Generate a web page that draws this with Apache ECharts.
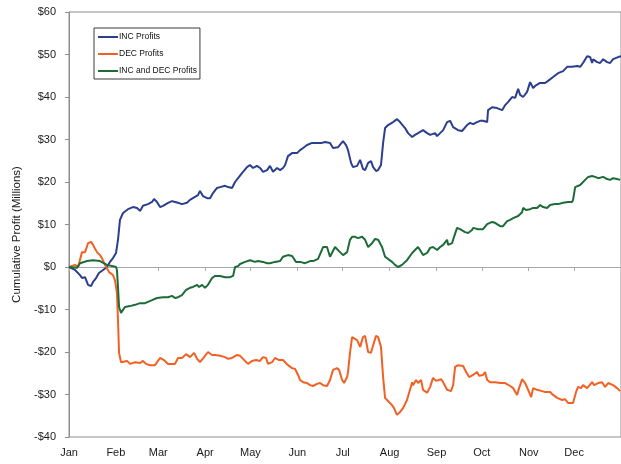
<!DOCTYPE html>
<html>
<head>
<meta charset="utf-8">
<script src="https://cdn.jsdelivr.net/npm/echarts@6/dist/echarts.min.js"></script>
<style>
  html, body { margin: 0; padding: 0; background: #ffffff; }
  #chart { width: 621px; height: 464px; }
</style>
</head>
<body>
<div id="chart"></div>
<script>
// Month labels sit on the first day of each month (day of year, 0-based)
const monthNames = ['Jan', 'Feb', 'Mar', 'Apr', 'May', 'Jun', 'Jul', 'Aug', 'Sep', 'Oct', 'Nov', 'Dec'];
const monthStartDays = [0, 31, 59, 90, 120, 151, 181, 212, 243, 273, 304, 334];

// Cumulative profit in $ millions, INC strategy
const incDays = [0, 4.0, 7.3, 8.6, 10.6, 12.6, 14.6, 15.9, 17.9, 19.8, 22.5, 25.1, 27.1, 29.1, 31.1, 32.4, 33.7, 35.7, 39.0, 42.3,
  45.0, 47.0, 48.9, 52.2, 54.9, 56.2, 58.2, 60.2, 62.2, 65.5, 68.1, 70.1, 72.1, 74.7, 78.0, 80.0, 83.3, 85.3, 86.6, 88.6,
  91.3, 93.3, 95.2, 97.9, 99.9, 103.2, 105.2, 107.8, 109.8, 111.8, 114.4, 117.7, 119.7, 121.7, 124.3, 126.3, 128.3, 131.0, 132.9, 134.9,
  137.6, 139.6, 141.5, 142.9, 144.8, 147.5, 150.8, 152.8, 154.8, 157.4, 160.7, 164.0, 167.3, 169.3, 172.6, 174.6, 177.9, 181.2, 183.2, 184.5,
  186.5, 187.8, 190.5, 192.5, 194.4, 195.8, 197.8, 199.7, 201.1, 203.0, 204.4, 206.3, 207.7, 209.0, 211.0, 214.3, 216.9, 218.9, 222.2, 224.2,
  226.9, 228.8, 230.8, 234.1, 236.8, 238.8, 242.1, 243.4, 245.4, 247.4, 250.0, 252.0, 254.0, 257.3, 259.9, 263.2, 265.2, 267.2, 269.8, 271.8,
  273.8, 276.5, 277.1, 279.8, 283.1, 286.4, 288.4, 290.3, 293.0, 295.0, 297.0, 298.3, 300.3, 302.9, 304.9, 306.9, 308.2, 311.5, 314.8, 316.8,
  318.1, 320.1, 323.4, 326.7, 329.4, 332.7, 336.0, 338.0, 339.9, 342.6, 344.6, 345.9, 346.6, 349.2, 351.2, 353.2, 354.5, 355.8, 357.8, 359.8,
  363.1, 365.0];
const incValues = [0, -0.7, -1.9, -2.6, -2.4, -4.2, -4.5, -3.5, -2.6, -1.4, -0.7, 0.0, 1.2, 2.1, 3.3, 6.4, 11.1, 12.7, 13.6, 14.1,
  13.9, 13.2, 14.4, 14.8, 15.3, 16.0, 15.3, 14.1, 14.4, 15.1, 15.5, 15.3, 15.1, 14.8, 15.1, 15.8, 16.5, 16.9, 17.9, 16.7,
  16.2, 16.2, 17.4, 18.6, 18.8, 19.1, 18.8, 18.6, 20.0, 20.9, 22.1, 23.5, 24.0, 23.3, 23.8, 23.3, 22.4, 22.8, 23.8, 22.4,
  23.3, 22.8, 23.3, 24.0, 26.1, 26.8, 26.8, 27.5, 28.0, 28.7, 29.2, 29.2, 29.2, 29.4, 29.2, 28.0, 28.2, 29.6, 28.7, 27.5,
  24.5, 23.5, 23.8, 25.2, 23.1, 22.8, 24.5, 24.9, 23.5, 22.6, 22.8, 24.0, 29.2, 32.7, 33.4, 34.1, 34.8, 34.1, 32.7, 31.5,
  30.6, 31.1, 31.5, 32.2, 31.5, 31.1, 31.5, 30.8, 31.5, 32.2, 34.1, 34.4, 32.9, 32.2, 32.0, 33.4, 33.9, 33.6, 34.1, 34.4,
  34.4, 34.1, 36.9, 37.6, 37.4, 36.9, 38.1, 38.8, 40.0, 39.8, 41.9, 40.5, 40.0, 41.2, 43.5, 42.1, 42.6, 43.3, 43.3, 43.8,
  44.2, 44.7, 45.6, 46.1, 47.1, 47.1, 47.3, 47.1, 48.0, 49.6, 49.4, 48.0, 48.9, 48.2, 48.0, 48.9, 49.2, 48.2, 48.0, 48.9,
  49.4, 49.6];

// Cumulative profit in $ millions, DEC strategy
const decDays = [0, 4.0, 6.0, 8.6, 10.6, 12.6, 14.6, 15.9, 18.5, 20.5, 21.8, 23.8, 26.5, 29.1, 30.4, 31.7, 32.4, 33.1, 34.4, 35.7,
  38.4, 40.3, 43.7, 47.0, 48.9, 50.9, 53.6, 56.9, 60.2, 62.8, 65.5, 66.8, 70.1, 72.1, 74.7, 77.4, 80.0, 82.7, 84.7, 86.6,
  89.3, 91.9, 94.6, 96.6, 99.9, 103.2, 105.2, 107.8, 111.1, 113.1, 116.4, 118.4, 121.0, 123.7, 126.3, 128.3, 130.3, 131.6, 134.3, 136.2,
  138.9, 141.5, 142.9, 144.8, 147.5, 149.5, 151.5, 152.8, 154.8, 157.4, 159.4, 161.4, 164.0, 166.0, 168.0, 170.6, 172.6, 174.6, 177.2, 178.6,
  180.6, 181.9, 183.9, 184.5, 185.8, 187.2, 188.5, 190.5, 192.5, 194.4, 195.8, 197.8, 199.7, 201.1, 203.0, 204.4, 206.3, 207.7, 209.0, 210.3,
  211.6, 213.6, 214.9, 216.9, 218.9, 220.9, 223.5, 226.9, 227.5, 229.5, 230.8, 232.8, 234.1, 236.8, 238.8, 240.7, 242.7, 244.0, 246.0, 247.4,
  250.0, 252.6, 254.0, 255.3, 257.3, 260.6, 262.6, 264.6, 267.2, 269.8, 271.2, 273.8, 275.1, 276.5, 278.4, 281.7, 285.1, 288.4, 291.7, 293.7,
  296.3, 297.6, 299.6, 301.6, 303.6, 305.6, 306.9, 309.5, 312.8, 314.8, 318.1, 320.1, 322.8, 326.1, 328.0, 330.0, 333.3, 335.3, 336.6, 338.6,
  339.9, 342.6, 345.9, 347.2, 349.9, 352.5, 354.5, 356.5, 359.8, 362.4, 364.4];
const decValues = [0, 0.5, 0.0, 3.5, 3.5, 5.6, 5.9, 5.2, 3.5, 2.8, 2.1, 0.5, -1.2, -1.9, -3.1, -6.1, -12.5, -20.2, -22.4, -22.8,
  -22.1, -22.8, -22.4, -22.6, -22.1, -22.8, -23.1, -23.1, -21.4, -21.9, -22.8, -22.6, -22.8, -21.4, -21.4, -20.5, -21.2, -20.2, -21.6, -22.4,
  -21.2, -20.0, -20.7, -20.7, -20.9, -21.2, -21.6, -21.4, -20.7, -20.9, -22.1, -22.8, -22.1, -21.9, -22.1, -21.2, -21.4, -22.8, -22.4, -21.4,
  -21.9, -21.9, -22.4, -23.1, -23.8, -24.0, -25.4, -26.6, -27.1, -27.3, -27.8, -28.0, -27.5, -27.3, -27.8, -28.0, -26.6, -24.2, -23.8, -24.2,
  -26.6, -27.3, -25.9, -24.7, -20.2, -16.5, -16.9, -17.2, -18.8, -16.5, -16.2, -20.0, -20.2, -18.4, -16.2, -16.5, -18.8, -25.9, -30.8, -31.3,
  -31.1, -32.5, -33.2, -34.8, -34.1, -33.2, -31.3, -27.1, -27.8, -26.6, -27.3, -26.6, -28.9, -29.6, -28.2, -26.1, -26.8, -27.1, -26.4, -27.1,
  -28.9, -29.2, -27.8, -23.5, -23.1, -23.3, -24.7, -25.9, -25.4, -24.7, -25.6, -25.4, -24.7, -26.6, -27.1, -27.1, -27.3, -27.3, -28.0, -28.5,
  -30.1, -28.5, -26.4, -27.3, -28.9, -30.6, -28.5, -28.9, -29.2, -29.4, -29.4, -30.1, -30.8, -31.3, -31.1, -32.0, -32.0, -29.4, -28.2, -28.5,
  -27.8, -28.5, -27.1, -27.8, -27.3, -27.1, -28.2, -27.3, -27.8, -28.5, -29.2];

// Cumulative profit in $ millions, INC and DEC combined
const bothDays = [0, 5.3, 7.3, 11.9, 15.9, 20.5, 25.1, 29.1, 31.1, 31.7, 32.4, 33.1, 34.4, 35.7, 37.0, 40.3, 43.7, 47.0, 50.3, 52.2,
  54.9, 58.2, 62.2, 65.5, 68.1, 70.1, 72.1, 74.7, 77.4, 80.0, 82.0, 84.7, 86.0, 88.0, 89.9, 91.9, 94.6, 96.6, 99.9, 103.2,
  106.5, 108.5, 109.8, 111.8, 113.1, 116.4, 119.7, 123.0, 125.0, 128.3, 131.0, 132.9, 136.2, 139.6, 141.5, 144.8, 147.5, 150.1, 152.8, 156.1,
  159.4, 161.4, 164.7, 168.0, 170.6, 172.6, 175.9, 179.2, 181.2, 183.9, 185.8, 187.2, 189.2, 191.1, 193.8, 195.8, 197.8, 200.4, 202.4, 204.4,
  207.0, 209.0, 211.0, 213.6, 215.6, 217.6, 220.2, 223.5, 226.9, 228.8, 230.8, 232.1, 234.1, 236.8, 238.8, 240.7, 243.4, 245.4, 247.4, 250.0,
  250.7, 253.3, 254.6, 256.6, 258.6, 261.9, 263.9, 266.5, 267.2, 270.5, 273.8, 276.5, 279.8, 281.7, 285.1, 287.0, 289.7, 291.7, 293.7, 295.0,
  297.0, 299.6, 300.3, 302.2, 304.9, 306.9, 309.5, 311.5, 313.5, 316.1, 318.1, 321.4, 323.4, 326.7, 330.0, 332.7, 333.3, 334.7, 336.0, 338.0,
  341.3, 343.3, 345.9, 347.9, 349.9, 353.2, 355.8, 357.8, 359.8, 362.4, 364.4];
const bothValues = [0, -0.2, 0.9, 1.4, 1.6, 1.4, 0.5, 0.2, 0.0, -0.7, -4.7, -9.4, -10.8, -10.1, -9.4, -9.2, -8.9, -8.5, -8.5, -8.2,
  -7.8, -7.3, -7.1, -7.1, -6.8, -7.3, -7.1, -6.6, -5.4, -4.9, -4.7, -4.2, -4.7, -4.2, -4.9, -4.2, -2.6, -2.1, -2.1, -2.4,
  -2.4, -2.1, 0.0, 0.2, 0.7, 1.2, 1.6, 1.2, 1.4, 1.2, 0.9, 0.9, 1.2, 1.4, 2.4, 2.8, 2.6, 1.2, 1.2, 0.9,
  1.4, 1.4, 1.9, 4.7, 4.7, 2.4, 4.7, 3.5, 2.8, 3.5, 6.4, 7.1, 7.1, 6.8, 7.1, 6.4, 4.7, 5.6, 6.6, 6.4,
  4.7, 2.4, 1.9, 1.2, 0.5, 0.0, 0.5, 1.6, 3.3, 4.0, 4.7, 4.0, 2.8, 3.3, 4.5, 4.7, 4.0, 4.7, 5.2, 6.4,
  5.2, 5.6, 7.1, 9.2, 8.9, 8.2, 8.0, 8.7, 9.2, 8.9, 8.9, 10.1, 10.6, 10.4, 9.6, 9.6, 10.8, 11.1, 11.5, 11.8,
  12.0, 12.9, 13.9, 13.4, 13.6, 13.9, 13.9, 14.6, 14.1, 13.9, 14.6, 14.8, 14.8, 15.1, 15.3, 15.3, 15.8, 18.8, 19.1, 19.3,
  20.5, 21.2, 21.4, 21.2, 20.9, 21.2, 20.7, 20.5, 20.9, 20.7, 20.5];

const seriesNames = ['INC Profits', 'DEC Profits', 'INC and DEC Profits'];
const seriesColors = ['#2B3F8E', '#F26124', '#1D6B37'];

const pairs = (days, values) => days.map((d, i) => [d, values[i]]);

const FONT = "'Liberation Sans', Arial, sans-serif";
const AXIS_GRAY = '#8E8E8E';

const chart = echarts.init(document.getElementById('chart'), null, { renderer: 'canvas' });

chart.setOption({
  animation: false,
  backgroundColor: '#ffffff',
  textStyle: { fontFamily: FONT },
  grid: {
    left: 69, right: -2, top: 12, bottom: 27,
    show: true, borderColor: AXIS_GRAY, borderWidth: 1, backgroundColor: 'transparent'
  },
  legend: {
    data: seriesNames,
    orient: 'vertical',
    left: 94, top: 28,
    icon: 'rect',
    itemWidth: 20, itemHeight: 2,
    itemGap: 7,
    padding: [4, 3, 3, 4],
    borderColor: '#3A3A3A', borderWidth: 1,
    backgroundColor: '#ffffff',
    textStyle: { fontFamily: FONT, fontSize: 8.5, lineHeight: 10, color: '#111111', padding: [0, 0, 0, -4] }
  },
  xAxis: [
    {
      // month labels along the bottom of the frame
      type: 'value', min: 0, max: 365, position: 'bottom',
      axisLine: { show: false, onZero: false },
      axisTick: { show: false },
      splitLine: { show: false },
      axisLabel: {
        customValues: monthStartDays,
        formatter: v => monthNames[monthStartDays.indexOf(v)] || '',
        margin: 10, fontSize: 11, color: '#1a1a1a', fontFamily: FONT
      }
    },
    {
      // zero line with month tick marks
      type: 'value', min: 0, max: 365,
      axisLine: { show: true, onZero: true, lineStyle: { color: '#A8A8A8', width: 1 } },
      axisTick: { show: true, inside: true, length: 4, customValues: monthStartDays, lineStyle: { color: '#A8A8A8' } },
      axisLabel: { show: false },
      splitLine: { show: false }
    }
  ],
  yAxis: {
    type: 'value', min: -40, max: 60, interval: 10,
    name: 'Cumulative Profit (Millions)',
    nameLocation: 'middle', nameGap: 41,
    nameTextStyle: { fontSize: 11.5, color: '#1a1a1a', fontFamily: FONT, padding: [0, 20, 0, 0] },
    axisLine: { show: true, onZero: false, lineStyle: { color: AXIS_GRAY } },
    axisTick: { show: true, length: 4, lineStyle: { color: AXIS_GRAY } },
    splitLine: { show: false },
    axisLabel: {
      margin: 13, fontSize: 11, color: '#1a1a1a', fontFamily: FONT,
      formatter: v => (v < 0 ? '-$' + Math.abs(v) : '$' + v)
    }
  },
  series: [
    { name: seriesNames[0], type: 'line', data: pairs(incDays, incValues) },
    { name: seriesNames[1], type: 'line', data: pairs(decDays, decValues) },
    { name: seriesNames[2], type: 'line', data: pairs(bothDays, bothValues) }
  ].map((s, i) => Object.assign(s, {
    xAxisIndex: 0,
    showSymbol: false, symbol: 'none',
    color: seriesColors[i],
    lineStyle: { color: seriesColors[i], width: 2 }
  }))
});
</script>
</body>
</html>
